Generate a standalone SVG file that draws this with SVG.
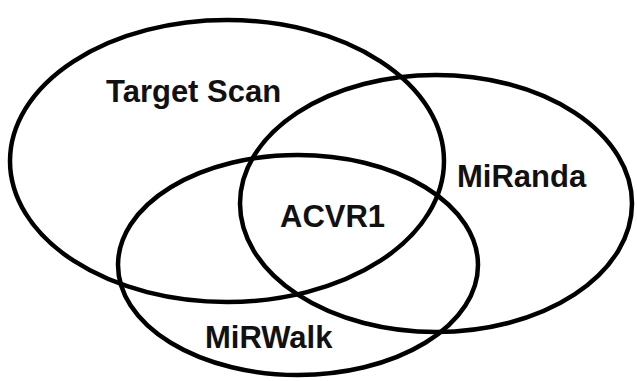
<svg xmlns="http://www.w3.org/2000/svg" width="637" height="381" viewBox="0 0 637 381">
<style>
.set{fill:none;stroke:#000;stroke-width:4.5}
.lbl{font-family:"Liberation Sans",Arial,sans-serif;font-weight:bold;font-size:31px;fill:#111}
</style>
<rect width="637" height="381" fill="#fff"/>
<g id="targetscan">
<ellipse class="set" cx="227" cy="161" rx="217" ry="141"/>
<text class="lbl" x="106" y="102">Target Scan</text>
</g>
<g id="miranda">
<ellipse class="set" cx="436" cy="203.5" rx="196" ry="128.5"/>
<text class="lbl" x="457" y="186.5">MiRanda</text>
</g>
<g id="mirwalk">
<ellipse class="set" cx="298" cy="265" rx="180" ry="110"/>
<text class="lbl" x="205" y="348">MiRWalk</text>
</g>
<g id="acvr1">
<text class="lbl" x="280" y="226.5">ACVR1</text>
</g>
<g id="connectors"/>
</svg>
